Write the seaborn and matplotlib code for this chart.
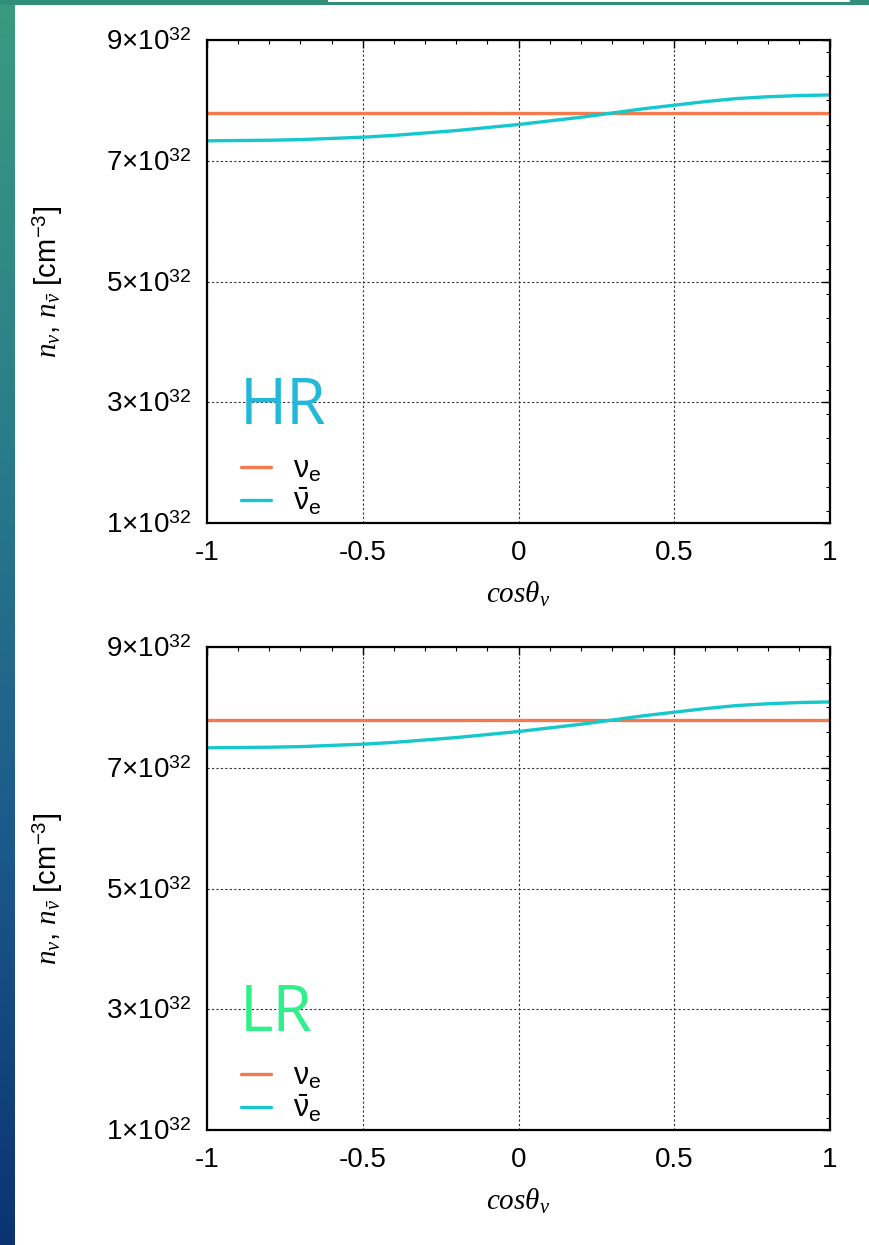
import numpy as np
import pandas as pd
import matplotlib
matplotlib.use("Agg")
import matplotlib.pyplot as plt
import matplotlib.ticker as mticker
from matplotlib.patches import Rectangle
import seaborn as sns

# Angular grid and electron-neutrino number densities [cm^-3]
cos_theta = [-1.0, -0.9, -0.8, -0.7, -0.6, -0.5, -0.4, -0.3, -0.2, -0.1, 0.0,
             0.1, 0.2, 0.3, 0.4, 0.5, 0.6, 0.7, 0.8, 0.9, 1.0]
n_nue_hr = [7.79e32] * 21
n_nuebar_hr = [7.33e32, 7.335e32, 7.34e32, 7.35e32, 7.37e32, 7.39e32, 7.42e32,
               7.46e32, 7.50e32, 7.55e32, 7.60e32, 7.66e32, 7.72e32, 7.79e32,
               7.86e32, 7.92e32, 7.98e32, 8.03e32, 8.06e32, 8.08e32, 8.09e32]
n_nue_lr = [7.79e32] * 21
n_nuebar_lr = [7.33e32, 7.335e32, 7.34e32, 7.35e32, 7.37e32, 7.39e32, 7.42e32,
               7.46e32, 7.50e32, 7.55e32, 7.60e32, 7.66e32, 7.72e32, 7.79e32,
               7.86e32, 7.92e32, 7.98e32, 8.03e32, 8.06e32, 8.08e32, 8.09e32]

species = [r"$\mathrm{\nu}_{\mathrm{e}}$", r"$\bar{\mathrm{\nu}}_{\mathrm{e}}$"]
species_colors = ["#f27a4c", "#14c8cc"]
x_ticks = [-1, -0.5, 0, 0.5, 1]
x_ticklabels = ["-1", "-0.5", "0", "0.5", "1"]
y_ticks = [1e32, 3e32, 5e32, 7e32, 9e32]
panel_names = ["HR", "LR"]
panel_colors = ["#22b9d8", "#30f08c"]

sns.set_theme(style="white")
plt.rcParams.update({
    "font.family": ["Liberation Sans", "DejaVu Sans"],
    "mathtext.fontset": "custom",
    "mathtext.rm": "Liberation Sans",
    "mathtext.sf": "Liberation Sans",
    "mathtext.it": "Liberation Serif:italic",
    "mathtext.bf": "Liberation Sans:bold",
    "mathtext.fallback": "stix",
    "axes.edgecolor": "black",
    "axes.linewidth": 1.6,
    "axes.labelcolor": "black",
    "text.color": "black",
    "xtick.color": "black",
    "ytick.color": "black",
    "xtick.direction": "in",
    "ytick.direction": "in",
})

W, H = 869, 1245
fig = plt.figure(figsize=(W / 100, H / 100), dpi=100, facecolor="white")

# Slide-style frame: gradient strip on the left, bar along the top
strip = fig.add_axes([0, 0, 14 / W, 1])
grad = np.linspace(0, 1, 256)[:, None]
cmap = matplotlib.colors.LinearSegmentedColormap.from_list(
    "frame", ["#3a9b7f", "#2a7f8a", "#1c5a8c", "#0b3372"])
strip.imshow(grad, aspect="auto", cmap=cmap, extent=[0, 1, 0, 1], origin="upper")
strip.axis("off")
fig.patches.append(Rectangle((0, 1 - 5 / H), 1, 5 / H, transform=fig.transFigure,
                             facecolor="#2f8f78", edgecolor="none", zorder=5))
fig.patches.append(Rectangle((328 / W, 1 - 2 / H), (850 - 328) / W, 2 / H,
                             transform=fig.transFigure, facecolor="white",
                             edgecolor="none", zorder=6))

panels = [
    (n_nue_hr, n_nuebar_hr, 40),
    (n_nue_lr, n_nuebar_lr, 647),
]

ax_left, ax_right = 207, 830
ax_h = 483


def sci_label(v, pos):
    m = int(round(v / 1e32))
    return r"$%d{\times}10^{32}$" % m


for i, (nue, nuebar, top_px) in enumerate(panels):
    ax = fig.add_axes([ax_left / W, 1 - (top_px + ax_h) / H,
                       (ax_right - ax_left) / W, ax_h / H])
    df = pd.DataFrame({
        "cos": cos_theta * 2,
        "n": list(nue) + list(nuebar),
        "species": [species[0]] * len(cos_theta) + [species[1]] * len(cos_theta),
    })
    sns.lineplot(data=df, x="cos", y="n", hue="species", hue_order=species,
                 palette=species_colors, linewidth=2.4, ax=ax, legend=True,
                 sort=False)
    ax.set_xlim(-1, 1)
    ax.set_ylim(1e32, 9e32)
    ax.set_xticks(x_ticks)
    ax.set_xticklabels(x_ticklabels)
    ax.set_yticks(y_ticks)
    ax.yaxis.set_major_formatter(mticker.FuncFormatter(sci_label))
    ax.xaxis.set_minor_locator(mticker.MultipleLocator(0.1))
    ax.yaxis.set_minor_locator(mticker.MultipleLocator(0.4e32))
    ax.tick_params(which="both", top=True, right=True, color="black")
    ax.tick_params(which="major", length=6, width=1.0, labelsize=20,
                   labelcolor="black")
    ax.tick_params(axis="y", which="major", pad=11)
    ax.tick_params(axis="x", which="major", pad=12)
    ax.tick_params(which="minor", length=3, width=0.8)
    ax.grid(True, which="major", color="#333333", linewidth=0.8,
            linestyle=(0, (2, 2)))
    for s in ax.spines.values():
        s.set_visible(True)
        s.set_linewidth(1.6)
        s.set_color("black")
    ax.set_xlabel(r"$cos\theta_{\nu}$", fontsize=21, labelpad=10)
    ax.set_ylabel(r"$n_{\nu}$, $n_{\bar{\nu}}$ [cm$^{-3}$]", fontsize=21,
                  labelpad=30)
    ax.text(0.052, 0.205, panel_names[i], transform=ax.transAxes,
            fontsize=46, color=panel_colors[i], family="Open Sans",
            ha="left", va="baseline", zorder=1)
    handles, labels = ax.get_legend_handles_labels()
    leg = ax.legend(handles, labels, loc="lower left",
                    bbox_to_anchor=(0.054, 0.012), frameon=False,
                    fontsize=22, handlelength=1.0, handletextpad=0.7,
                    labelspacing=0.05, borderpad=0, borderaxespad=0)

fig.savefig("out.png", dpi=100, facecolor="white")
